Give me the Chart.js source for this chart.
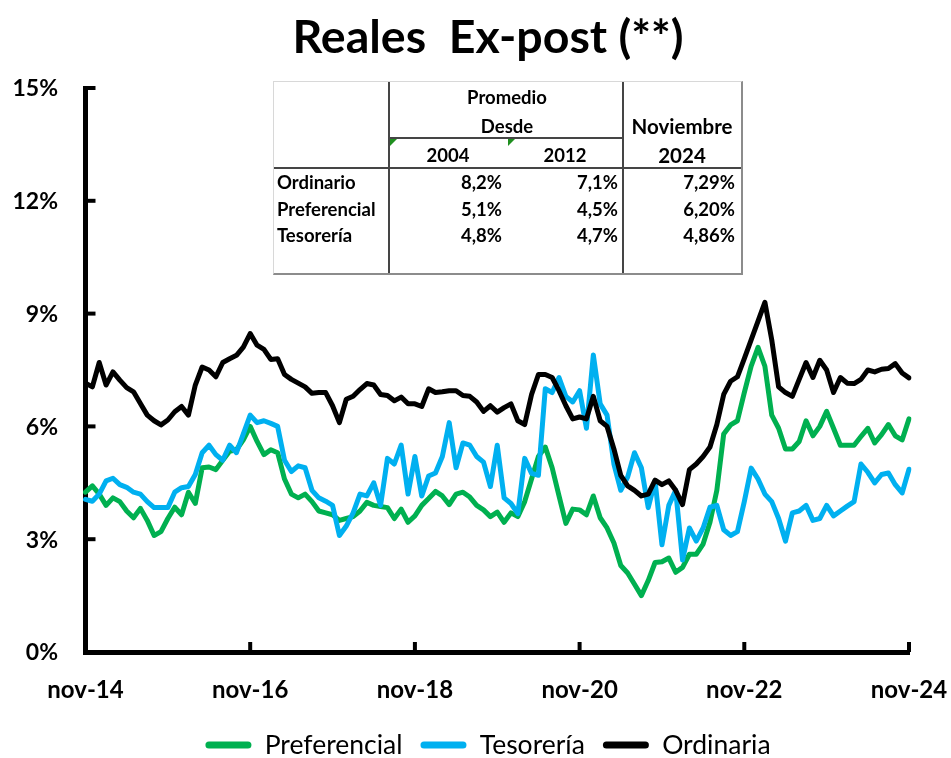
<!DOCTYPE html>
<html lang="es">
<head>
<meta charset="utf-8">
<title>Reales Ex-post</title>
<script src="https://cdn.jsdelivr.net/npm/chart.js@4.4.1/dist/chart.umd.min.js"></script>
<style>
  html, body { margin: 0; padding: 0; background: #fff; }
  #wrap { position: relative; width: 951px; height: 758px; }
  #tasas { position: absolute; left: 0; top: 0; }
  #tabla {
    position: absolute; left: 273px; top: 81px; width: 470px; height: 194px;
    box-sizing: border-box; background: #fff;
    border-left: 1px solid #d8d8d8; border-top: 1px solid #d8d8d8;
    border-right: 2px solid #8c8c8c; border-bottom: 2px solid #8c8c8c;
    font-family: Lato, "Open Sans", sans-serif; font-weight: 700; font-size: 18.5px; color: #000;
  }
  #tabla .t { position: absolute; line-height: 20px; white-space: nowrap; }
  #tabla .grande { font-size: 20.5px; }
  #tabla .linea { position: absolute; background: #454545; }
  #tabla .marca { position: absolute; width: 0; height: 0; border-top: 7px solid #1f8f1f; border-right: 7px solid transparent; }
</style>
</head>
<body>
<div id="wrap">
  <canvas id="tasas" width="951" height="758"></canvas>
  <div id="tabla"></div>
</div>
<script>
// Tasas reales ex-post mensuales, nov-14 a nov-24 (%)
const preferencial = [
  4.25, 4.42, 4.20, 3.90, 4.10, 4.00, 3.75, 3.57, 3.82, 3.50,
  3.10, 3.20, 3.55, 3.85, 3.65, 4.25, 3.95, 4.90, 4.92, 4.85,
  5.10, 5.34, 5.38, 5.64, 6.00, 5.60, 5.25, 5.38, 5.30, 4.60,
  4.20, 4.10, 4.20, 4.00, 3.75, 3.70, 3.65, 3.50, 3.55, 3.60,
  3.75, 3.98, 3.90, 3.87, 3.84, 3.55, 3.80, 3.45, 3.62, 3.90,
  4.08, 4.27, 4.15, 3.92, 4.20, 4.25, 4.12, 3.90, 3.78, 3.60,
  3.72, 3.45, 3.70, 3.60, 4.00, 4.60, 5.20, 5.45, 4.90, 4.15,
  3.42, 3.80, 3.78, 3.65, 4.15, 3.57, 3.30, 2.90, 2.30, 2.10,
  1.80, 1.50, 1.90, 2.38, 2.40, 2.50, 2.12, 2.25, 2.60, 2.60,
  2.87, 3.45, 4.30, 5.80, 6.04, 6.15, 6.90, 7.60, 8.10, 7.60,
  6.30, 5.95, 5.40, 5.40, 5.60, 6.15, 5.75, 6.00, 6.40, 5.95,
  5.50, 5.50, 5.50, 5.73, 5.95, 5.56, 5.78, 6.05, 5.75, 5.64,
  6.20
];
const tesoreria = [
  4.06, 4.01, 4.20, 4.55, 4.62, 4.45, 4.38, 4.25, 4.20, 4.00,
  3.84, 3.84, 3.84, 4.25, 4.37, 4.40, 4.72, 5.30, 5.50, 5.25,
  5.10, 5.50, 5.30, 5.80, 6.30, 6.10, 6.15, 6.08, 6.00, 5.10,
  4.80, 4.95, 4.90, 4.30, 4.10, 4.01, 3.90, 3.10, 3.35, 3.70,
  4.20, 4.15, 4.50, 3.90, 5.15, 5.00, 5.50, 4.20, 5.20, 4.15,
  4.68, 4.76, 5.20, 6.10, 4.90, 5.56, 5.50, 5.20, 5.05, 4.40,
  5.50, 4.10, 3.95, 3.68, 5.15, 4.75, 4.70, 7.00, 6.90, 7.30,
  6.80, 6.65, 6.95, 5.95, 7.90, 6.60, 6.30, 5.00, 4.30, 4.65,
  5.30, 4.90, 3.84, 4.55, 2.85, 3.90, 4.30, 2.45, 3.30, 2.95,
  3.30, 3.85, 3.90, 3.25, 3.10, 3.20, 4.00, 4.89, 4.60, 4.20,
  4.00, 3.55, 2.95, 3.70, 3.75, 3.90, 3.50, 3.55, 3.90, 3.62,
  3.75, 3.88, 4.00, 5.00, 4.78, 4.50, 4.72, 4.76, 4.45, 4.23,
  4.86
];
const ordinaria = [
  7.15, 7.05, 7.70, 7.10, 7.45, 7.23, 7.03, 6.92, 6.61, 6.30,
  6.15, 6.04, 6.17, 6.39, 6.53, 6.30, 7.10, 7.58, 7.50, 7.32,
  7.70, 7.80, 7.89, 8.11, 8.47, 8.16, 8.05, 7.78, 7.80, 7.38,
  7.25, 7.15, 7.05, 6.88, 6.90, 6.90, 6.55, 6.10, 6.72, 6.80,
  6.98, 7.14, 7.10, 6.85, 6.82, 6.68, 6.78, 6.60, 6.60, 6.53,
  7.00, 6.90, 6.92, 6.95, 6.95, 6.82, 6.80, 6.65, 6.40, 6.55,
  6.38, 6.50, 6.60, 6.15, 6.05, 6.85, 7.38, 7.38, 7.30, 6.95,
  6.55, 6.20, 6.25, 6.20, 6.80, 6.15, 6.00, 5.40, 4.70, 4.42,
  4.30, 4.15, 4.20, 4.57, 4.45, 4.55, 4.30, 3.92, 4.85, 5.00,
  5.20, 5.45, 6.05, 6.85, 7.20, 7.32, 7.80, 8.30, 8.80, 9.30,
  8.30, 7.05, 6.90, 6.80, 7.25, 7.70, 7.30, 7.76, 7.50, 6.90,
  7.30, 7.15, 7.14, 7.25, 7.50, 7.45, 7.52, 7.54, 7.67, 7.42,
  7.29
];

// Etiquetas mensuales: nov-14 ... nov-24
const nombresMes = ['ene', 'feb', 'mar', 'abr', 'may', 'jun', 'jul', 'ago', 'sep', 'oct', 'nov', 'dic'];
const meses = ordinaria.map((_, i) => {
  const k = 10 + i;
  return nombresMes[k % 12] + '-' + (14 + Math.floor(k / 12));
});

// Cuadro de promedios
const filasTabla = ['Ordinario', 'Preferencial', 'Tesorería'];
const promedio2004 = ['8,2%', '5,1%', '4,8%'];
const promedio2012 = ['7,1%', '4,5%', '4,7%'];
const noviembre2024 = ['7,29%', '6,20%', '4,86%'];

const COLOR_PREF = '#00b050';
const COLOR_TES = '#00b0f0';
const COLOR_ORD = '#000000';
const FUENTE = 'Lato, "Open Sans", sans-serif';

function armarTabla() {
  const tabla = document.getElementById('tabla');
  const add = (html) => tabla.insertAdjacentHTML('beforeend', html);
  const centro = (txt, cx, cy, cls = '') =>
    add(`<div class="t ${cls}" style="left:${cx - 70}px;top:${cy - 10}px;width:140px;text-align:center">${txt}</div>`);
  const derecha = (txt, rx, cy) =>
    add(`<div class="t" style="left:${rx - 100}px;top:${cy - 10}px;width:100px;text-align:right">${txt}</div>`);

  add('<div class="linea" style="left:114px;top:0;bottom:0;width:2px"></div>');
  add('<div class="linea" style="left:348px;top:0;bottom:0;width:2px"></div>');
  add('<div class="linea" style="left:115px;top:55px;width:234px;height:1.5px"></div>');
  add('<div class="linea" style="left:0;right:0;top:85px;height:2px"></div>');
  add('<div class="marca" style="left:116px;top:57px"></div>');
  add('<div class="marca" style="left:234px;top:57px"></div>');

  centro('Promedio', 233, 15);
  centro('Desde', 233, 44);
  centro('2004', 174, 73);
  centro('2012', 291, 73);
  centro('Noviembre', 408, 44, 'grande');
  centro('2024', 408, 73, 'grande');

  const filasY = [100, 127, 153];
  filasTabla.forEach((nombre, i) => {
    add(`<div class="t" style="left:3px;top:${filasY[i] - 10}px">${nombre}</div>`);
    derecha(promedio2004[i], 228, filasY[i]);
    derecha(promedio2012[i], 344, filasY[i]);
    derecha(noviembre2024[i], 461, filasY[i]);
  });
}

// Marcas cortas hacia adentro y etiquetas del eje de porcentajes
const marcasEjes = {
  id: 'marcasEjes',
  afterDraw(chart) {
    const { ctx, chartArea, scales: { x, y } } = chart;
    ctx.save();
    ctx.strokeStyle = '#000';
    ctx.lineWidth = 4;
    y.ticks.forEach(t => {
      const py = y.getPixelForValue(t.value);
      ctx.beginPath();
      ctx.moveTo(chartArea.left, py);
      ctx.lineTo(chartArea.left + 10, py);
      ctx.stroke();
    });
    meses.forEach((m, i) => {
      if (i === 0 || i % 24 !== 0) return;
      const px = x.getPixelForValue(i);
      ctx.beginPath();
      ctx.moveTo(px, chartArea.bottom);
      ctx.lineTo(px, chartArea.bottom - 10);
      ctx.stroke();
    });

    ctx.fillStyle = '#000';
    ctx.font = `bold 23px ${FUENTE}`;
    ctx.textAlign = 'right';
    ctx.textBaseline = 'middle';
    y.ticks.forEach(t => {
      ctx.fillText(t.value + '%', chartArea.left - 27.5, y.getPixelForValue(t.value) + 1);
    });
    ctx.restore();
  }
};

function serie(label, data, color, order) {
  return {
    label, data, order,
    borderColor: color,
    backgroundColor: color,
    borderWidth: 5,
    pointRadius: 0,
    tension: 0,
    borderJoinStyle: 'round',
    borderCapStyle: 'round',
    fill: false
  };
}

document.addEventListener('DOMContentLoaded', () => {
  armarTabla();

  const ctx = document.getElementById('tasas').getContext('2d');
  new Chart(ctx, {
    type: 'line',
    data: {
      labels: meses,
      datasets: [
        serie('Preferencial', preferencial, COLOR_PREF, 3),
        serie('Tesorería', tesoreria, COLOR_TES, 2),
        serie('Ordinaria', ordinaria, COLOR_ORD, 1)
      ]
    },
    options: {
      responsive: false,
      animation: false,
      layout: { padding: { left: 67, right: 42, top: 0, bottom: -10.25 } },
      plugins: {
        title: {
          display: true,
          text: 'Reales  Ex-post (**)',
          color: '#000',
          font: { family: FUENTE, size: 46.5, weight: 'bold', lineHeight: 1.2 },
          padding: { top: 10, bottom: 22.2 }
        },
        legend: {
          position: 'bottom',
          labels: {
            color: '#000',
            font: { family: FUENTE, size: 26.5 },
            boxWidth: 46,
            boxHeight: 7,
            useBorderRadius: true,
            borderRadius: 3.5,
            padding: 18,
            sort: (a, b) => a.datasetIndex - b.datasetIndex,
            generateLabels: (chart) =>
              Chart.defaults.plugins.legend.labels.generateLabels(chart)
                .map(l => ({ ...l, lineWidth: 0, fillStyle: l.strokeStyle }))
          }
        },
        tooltip: { enabled: false }
      },
      scales: {
        x: {
          afterFit: (scale) => { scale.height = 61.75; },
          grid: { display: false, drawTicks: true, tickLength: 21.5 },
          border: { display: true, color: '#000', width: 5 },
          ticks: {
            autoSkip: false,
            maxRotation: 0,
            minRotation: 0,
            padding: 2,
            color: '#000',
            font: { family: FUENTE, size: 24, weight: 'bold' },
            callback: function (val, idx) {
              return idx % 24 === 0 ? this.getLabelForValue(val) : '';
            }
          }
        },
        y: {
          min: 0,
          max: 15,
          afterFit: (scale) => { scale.width = 18.5; },
          grid: { display: false, drawTicks: false },
          border: { display: true, color: '#000', width: 5 },
          ticks: { display: false, stepSize: 3 }
        }
      }
    },
    plugins: [marcasEjes]
  });
});
</script>
</body>
</html>
